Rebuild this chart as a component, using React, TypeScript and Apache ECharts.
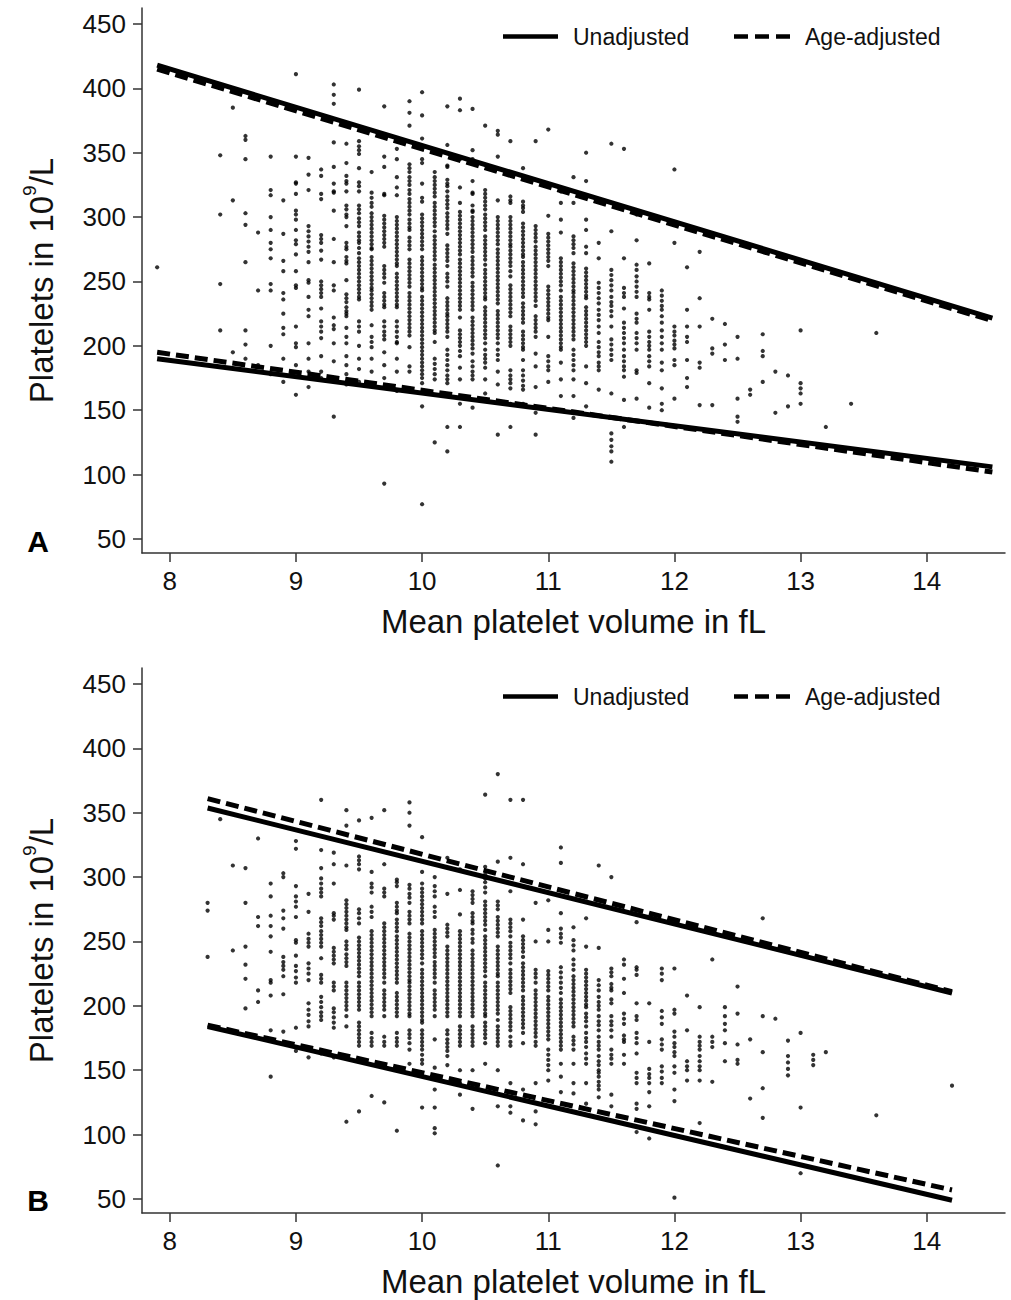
import React, { useEffect, useRef } from "react";
import * as echarts from "echarts";

const FONT = "'Liberation Sans', Arial, sans-serif";

const xTicks = [8, 9, 10, 11, 12, 13, 14];
const yTicks = [50, 100, 150, 200, 250, 300, 350, 400, 450];

// Panel A scatter: [MPV, list of platelet counts]
const panelAColumns: [number, number[]][] = [
  [7.9, [261]],
  [8.4, [348, 302, 248, 212]],
  [8.5, [385, 313, 195]],
  [8.6, [363, 360, 345, 303, 294, 265, 212, 201, 190]],
  [8.7, [288, 243, 185]],
  [8.8, [347, 321, 317, 300, 290, 280, 275, 268, 248, 243, 200, 178]],
  [8.9, [313, 287, 266, 258, 241, 236, 225, 214, 209, 190, 172]],
  [9.0, [411, 347, 327, 326, 318, 305, 302, 298, 290, 282, 279, 271, 258, 247, 245, 215, 202, 199, 185, 162]],
  [9.1, [346, 333, 321, 293, 289, 285, 281, 277, 273, 265, 251, 249, 238, 228, 223, 202, 190, 180, 168]],
  [9.2, [337, 332, 318, 314, 286, 283, 280, 274, 267, 250, 247, 244, 241, 238, 229, 219, 215, 211, 206, 192, 180, 175]],
  [9.3, [403, 395, 388, 358, 339, 326, 320, 319, 305, 283, 265, 247, 243, 222, 216, 213, 202, 188, 175, 145]],
  [9.4, [357, 342, 332, 328, 326, 320, 309, 306, 302, 300, 293, 280, 277, 275, 269, 266, 264, 251, 240, 237, 234, 230, 227, 225, 223, 214, 207, 202, 192, 185, 178, 170]],
  [9.5, [399, 359, 355, 352, 349, 338, 327, 324, 320, 309, 306, 303, 299, 296, 293, 288, 285, 282, 280, 276, 272, 268, 265, 262, 259, 256, 253, 250, 247, 244, 241, 238, 236, 219, 215, 211, 200, 190, 182, 172]],
  [9.6, [335, 319, 315, 311, 308, 303, 300, 297, 294, 291, 288, 285, 282, 279, 276, 275, 269, 266, 263, 260, 257, 254, 251, 248, 245, 243, 240, 237, 234, 231, 228, 216, 207, 203, 199, 190, 180, 170]],
  [9.7, [386, 347, 339, 318, 317, 301, 298, 295, 292, 289, 286, 283, 280, 277, 262, 259, 256, 253, 249, 241, 238, 235, 232, 230, 219, 215, 211, 208, 205, 195, 185, 175, 93]],
  [9.8, [353, 345, 331, 323, 317, 300, 297, 294, 291, 288, 285, 282, 279, 276, 273, 270, 267, 264, 262, 256, 253, 250, 247, 244, 241, 238, 235, 232, 230, 219, 215, 211, 207, 203, 202, 190, 180, 165]],
  [9.9, [390, 381, 371, 341, 338, 335, 331, 328, 325, 321, 318, 314, 311, 308, 305, 302, 298, 295, 292, 290, 284, 281, 278, 275, 267, 264, 261, 258, 255, 252, 249, 246, 241, 238, 235, 232, 229, 226, 223, 220, 217, 214, 211, 208, 199, 184, 180]],
  [10.0, [397, 379, 361, 345, 342, 326, 315, 312, 302, 299, 296, 293, 290, 287, 284, 281, 278, 275, 269, 266, 263, 260, 257, 254, 251, 248, 245, 243, 238, 235, 232, 229, 226, 223, 220, 217, 214, 211, 208, 205, 202, 199, 196, 193, 190, 187, 184, 181, 178, 175, 171, 153, 77]],
  [10.1, [335, 331, 328, 325, 322, 319, 316, 311, 308, 305, 302, 299, 296, 293, 289, 285, 282, 279, 276, 273, 270, 267, 263, 260, 257, 254, 251, 248, 245, 242, 239, 236, 233, 230, 227, 224, 221, 218, 215, 212, 210, 203, 190, 186, 182, 178, 174, 125]],
  [10.2, [386, 356, 340, 339, 329, 326, 324, 320, 316, 313, 310, 307, 303, 300, 297, 294, 291, 287, 278, 275, 272, 269, 266, 262, 256, 253, 250, 246, 237, 234, 231, 228, 225, 223, 220, 217, 214, 211, 207, 197, 193, 189, 185, 181, 177, 174, 171, 137, 118]],
  [10.3, [392, 383, 345, 323, 311, 304, 301, 298, 295, 292, 289, 286, 283, 280, 277, 274, 271, 267, 264, 261, 258, 255, 252, 249, 246, 243, 240, 237, 234, 231, 228, 222, 212, 209, 206, 203, 200, 196, 192, 183, 174, 155, 137]],
  [10.4, [384, 352, 345, 328, 319, 318, 309, 305, 304, 300, 297, 294, 291, 288, 285, 282, 279, 276, 273, 269, 266, 263, 260, 257, 254, 249, 246, 243, 240, 237, 234, 231, 228, 222, 219, 216, 213, 210, 207, 204, 201, 198, 194, 188, 184, 180, 177, 174, 152]],
  [10.5, [371, 321, 318, 315, 312, 309, 306, 302, 299, 296, 293, 290, 285, 282, 279, 276, 273, 270, 267, 263, 259, 256, 253, 250, 247, 244, 241, 238, 236, 230, 227, 224, 221, 218, 215, 212, 209, 206, 202, 197, 193, 190, 187, 183, 174, 163]],
  [10.6, [367, 364, 347, 313, 300, 297, 294, 291, 288, 285, 282, 279, 275, 272, 269, 266, 263, 260, 257, 254, 251, 248, 245, 242, 239, 236, 233, 227, 224, 221, 218, 215, 212, 209, 206, 202, 197, 193, 189, 180, 170, 131]],
  [10.7, [359, 316, 313, 311, 300, 297, 294, 291, 288, 285, 282, 279, 277, 274, 271, 268, 265, 262, 258, 254, 247, 244, 241, 238, 235, 232, 229, 226, 223, 215, 212, 209, 206, 203, 200, 181, 177, 174, 171, 167, 155, 137]],
  [10.8, [338, 312, 309, 307, 304, 295, 292, 289, 286, 283, 280, 277, 274, 271, 269, 265, 262, 259, 256, 253, 250, 247, 244, 241, 238, 233, 230, 227, 224, 221, 218, 211, 208, 205, 202, 199, 197, 189, 181, 177, 173, 169, 166, 155]],
  [10.9, [359, 293, 290, 287, 284, 281, 277, 274, 271, 268, 265, 262, 259, 256, 253, 250, 247, 244, 241, 238, 235, 231, 223, 220, 217, 214, 211, 207, 194, 184, 168, 148, 131]],
  [11.0, [368, 325, 301, 287, 284, 281, 278, 275, 272, 269, 266, 262, 246, 243, 240, 237, 234, 231, 228, 225, 222, 220, 207, 192, 188, 184, 181, 172]],
  [11.1, [320, 311, 298, 288, 268, 265, 262, 259, 256, 253, 250, 247, 243, 238, 235, 232, 229, 226, 223, 220, 217, 214, 211, 208, 205, 202, 199, 197, 187, 174, 161]],
  [11.2, [331, 311, 285, 282, 279, 276, 272, 264, 261, 258, 255, 252, 249, 246, 243, 241, 238, 235, 232, 229, 226, 223, 220, 217, 214, 211, 208, 205, 197, 193, 189, 185, 181, 174, 161, 144]],
  [11.3, [350, 328, 298, 290, 277, 272, 260, 257, 254, 251, 248, 245, 242, 239, 237, 230, 227, 224, 221, 218, 215, 212, 209, 206, 203, 200, 184, 171, 153]],
  [11.4, [280, 268, 249, 245, 241, 237, 233, 228, 224, 220, 215, 210, 203, 199, 195, 192, 187, 184, 181, 166]],
  [11.5, [357, 289, 259, 255, 251, 247, 243, 238, 234, 231, 227, 223, 215, 205, 201, 197, 193, 189, 163, 132, 127, 122, 118, 110]],
  [11.6, [353, 268, 245, 241, 238, 229, 218, 214, 210, 206, 202, 197, 192, 188, 184, 181, 176, 158, 137]],
  [11.7, [302, 282, 263, 259, 254, 250, 246, 242, 238, 225, 221, 218, 210, 206, 202, 197, 181, 179, 159]],
  [11.8, [264, 241, 238, 236, 228, 211, 207, 203, 200, 197, 192, 188, 184, 171, 152]],
  [11.9, [243, 239, 235, 231, 228, 223, 218, 212, 207, 202, 197, 187, 181, 167, 155, 150]],
  [12.0, [337, 280, 215, 211, 208, 204, 201, 198, 189, 185, 159]],
  [12.1, [261, 228, 215, 207, 203, 189, 175, 168]],
  [12.2, [273, 237, 215, 187, 183, 154]],
  [12.3, [221, 198, 194, 154]],
  [12.4, [217, 201, 189]],
  [12.5, [207, 190, 159, 145, 141]],
  [12.6, [166, 162]],
  [12.7, [209, 196, 192, 172]],
  [12.8, [180, 148]],
  [12.9, [177, 153]],
  [13.0, [212, 171, 167, 163, 155]],
  [13.2, [137]],
  [13.4, [155]],
  [13.6, [210]],
];

// Panel B scatter
const panelBColumns: [number, number[]][] = [
  [8.3, [280, 274, 238]],
  [8.4, [345]],
  [8.5, [309, 243]],
  [8.6, [307, 280, 246, 232, 221, 198]],
  [8.7, [330, 269, 262, 212, 203]],
  [8.8, [295, 285, 270, 262, 254, 242, 220, 218, 208, 181, 145]],
  [8.9, [303, 300, 274, 268, 260, 238, 234, 231, 228, 223, 209, 180]],
  [9.0, [328, 322, 293, 285, 281, 277, 269, 251, 249, 239, 231, 227, 222, 218, 183, 165]],
  [9.1, [287, 273, 256, 252, 249, 246, 233, 229, 225, 220, 202, 197, 193, 188, 184, 160]],
  [9.2, [360, 321, 307, 299, 295, 291, 288, 285, 268, 265, 262, 258, 255, 252, 249, 246, 237, 224, 221, 218, 207, 203, 199, 195, 192, 189, 163]],
  [9.3, [319, 310, 295, 272, 270, 267, 245, 242, 239, 236, 233, 218, 215, 212, 198, 195, 191, 187, 183, 160]],
  [9.4, [352, 340, 309, 282, 279, 276, 273, 270, 267, 264, 261, 259, 250, 247, 244, 240, 237, 234, 231, 218, 215, 212, 209, 206, 203, 200, 197, 192, 184, 110]],
  [9.5, [344, 316, 313, 310, 306, 275, 272, 268, 264, 253, 250, 247, 244, 241, 238, 235, 232, 229, 226, 223, 218, 215, 212, 209, 206, 203, 200, 197, 187, 184, 181, 178, 175, 172, 169, 118]],
  [9.6, [346, 304, 295, 292, 288, 277, 273, 269, 258, 255, 252, 249, 246, 243, 240, 237, 234, 231, 228, 225, 222, 219, 216, 213, 210, 207, 204, 201, 198, 195, 192, 179, 175, 172, 169, 130]],
  [9.7, [352, 310, 291, 288, 285, 264, 261, 258, 255, 252, 249, 246, 243, 240, 237, 234, 231, 228, 225, 222, 218, 212, 209, 206, 203, 200, 197, 192, 176, 172, 169, 125]],
  [9.8, [298, 296, 293, 280, 277, 274, 272, 267, 264, 261, 258, 254, 251, 248, 245, 242, 239, 236, 233, 230, 227, 224, 221, 218, 210, 207, 204, 201, 198, 195, 192, 179, 175, 172, 169, 103]],
  [9.9, [358, 350, 340, 294, 291, 287, 284, 280, 273, 270, 267, 264, 256, 253, 250, 247, 244, 241, 238, 235, 232, 229, 226, 223, 220, 218, 215, 212, 209, 206, 203, 200, 197, 194, 192, 181, 178, 175, 171, 166, 155]],
  [10.0, [331, 304, 295, 291, 288, 285, 282, 279, 276, 273, 270, 267, 264, 258, 255, 252, 249, 246, 243, 240, 237, 233, 228, 225, 222, 219, 216, 213, 210, 207, 204, 201, 198, 195, 192, 189, 187, 181, 178, 175, 172, 169, 166, 162, 158, 155, 121]],
  [10.1, [300, 293, 289, 285, 277, 273, 269, 259, 256, 253, 250, 247, 244, 241, 238, 234, 231, 228, 225, 222, 218, 212, 209, 206, 203, 200, 197, 192, 174, 152, 135, 121, 105, 101]],
  [10.2, [315, 287, 263, 260, 257, 254, 246, 243, 240, 237, 234, 231, 228, 225, 222, 219, 216, 213, 210, 207, 204, 201, 198, 195, 192, 181, 178, 174, 171, 168, 165, 161, 154]],
  [10.3, [306, 290, 271, 258, 255, 252, 249, 246, 243, 240, 237, 234, 231, 228, 225, 222, 219, 216, 213, 210, 207, 204, 201, 198, 195, 192, 184, 181, 178, 175, 172, 169, 150, 140, 131]],
  [10.4, [289, 286, 283, 280, 272, 269, 266, 264, 259, 256, 252, 249, 243, 240, 237, 234, 231, 228, 225, 222, 219, 216, 213, 210, 207, 204, 201, 198, 195, 192, 184, 181, 178, 175, 172, 169, 150, 120]],
  [10.5, [364, 308, 302, 299, 296, 292, 288, 281, 278, 275, 272, 269, 266, 263, 259, 254, 251, 248, 245, 242, 239, 236, 233, 230, 227, 223, 218, 215, 212, 209, 206, 203, 200, 197, 194, 192, 187, 184, 181, 178, 175, 171, 155]],
  [10.6, [380, 312, 281, 278, 275, 269, 266, 263, 260, 257, 254, 246, 243, 240, 237, 234, 231, 228, 225, 223, 218, 215, 212, 209, 206, 203, 200, 197, 194, 189, 184, 181, 178, 175, 172, 169, 150, 122, 76]],
  [10.7, [360, 315, 289, 267, 264, 261, 258, 254, 249, 246, 243, 240, 237, 233, 228, 225, 222, 219, 216, 213, 210, 199, 196, 193, 190, 187, 184, 181, 176, 172, 169, 140, 122, 117]],
  [10.8, [360, 310, 267, 254, 251, 248, 245, 242, 238, 233, 230, 227, 224, 221, 218, 215, 212, 207, 204, 201, 198, 195, 192, 189, 186, 183, 179, 171, 135, 111]],
  [10.9, [280, 250, 228, 225, 222, 218, 212, 209, 206, 203, 200, 197, 194, 191, 188, 185, 182, 179, 176, 172, 169, 140, 118, 108]],
  [11.0, [282, 259, 250, 227, 224, 221, 218, 215, 212, 207, 204, 201, 198, 195, 192, 189, 186, 183, 180, 177, 174, 166, 162, 158, 154, 150, 142]],
  [11.1, [323, 311, 272, 260, 256, 253, 249, 230, 226, 222, 218, 214, 210, 205, 202, 199, 196, 193, 190, 187, 184, 181, 178, 175, 172, 169, 166, 155, 145, 133]],
  [11.2, [261, 251, 247, 243, 236, 232, 228, 223, 220, 217, 214, 211, 208, 205, 202, 199, 196, 193, 190, 187, 184, 176, 173, 170, 166, 155, 140, 132]],
  [11.3, [268, 246, 228, 225, 222, 219, 216, 213, 210, 207, 204, 201, 199, 194, 191, 188, 184, 179, 175, 172, 168, 163, 159, 155, 140, 124]],
  [11.4, [309, 245, 220, 216, 212, 207, 203, 200, 197, 192, 188, 185, 181, 176, 172, 169, 166, 161, 157, 154, 150, 148, 145, 141, 138, 135, 129]],
  [11.5, [300, 229, 226, 223, 217, 214, 212, 205, 202, 192, 188, 185, 181, 176, 166, 162, 159, 155, 131, 122]],
  [11.6, [236, 232, 221, 210, 194, 190, 186, 177, 174, 172, 162, 155]],
  [11.7, [265, 230, 228, 224, 202, 192, 189, 179, 175, 171, 163, 148, 144, 140, 124, 120, 102]],
  [11.8, [202, 172, 151, 147, 144, 140, 133, 122, 97]],
  [11.9, [229, 225, 220, 196, 191, 186, 174, 170, 166, 153, 149, 144, 140]],
  [12.0, [229, 197, 194, 180, 176, 171, 168, 164, 161, 153, 148, 135, 126, 51]],
  [12.1, [208, 181, 157, 153, 150, 142]],
  [12.2, [199, 176, 172, 169, 166, 161, 157, 153, 150, 142, 109]],
  [12.3, [236, 176, 172, 168, 141]],
  [12.4, [199, 192, 186, 181, 171, 157]],
  [12.5, [215, 194, 170, 158, 155]],
  [12.6, [174, 128]],
  [12.7, [268, 192, 164, 136, 113]],
  [12.8, [190]],
  [12.9, [173, 161, 156, 151, 146]],
  [13.0, [179, 121, 70]],
  [13.1, [162, 158, 154]],
  [13.2, [164]],
  [13.6, [115]],
  [14.2, [138]],
];

// Reference limits (lower / upper), unadjusted and age-adjusted
const aUnadjUpper = [[7.9, 418], [14.52, 221.5]];
const aAgeUpper = [[7.9, 415], [14.52, 219.5]];
const aUnadjLower = [[7.9, 190], [14.52, 106]];
const aAgeLower = [[7.9, 195], [14.52, 102]];
const bUnadjUpper = [[8.3, 353.7], [14.2, 210]];
const bAgeUpper = [[8.3, 361], [14.2, 211]];
const bUnadjLower = [[8.3, 184], [14.2, 49]];
const bAgeLower = [[8.3, 185], [14.2, 57]];

const legendLabels = ["Unadjusted", "Age-adjusted"];
const panelLabels = ["A", "B"];

const X_MIN = 7.78;
const X_MAX = 14.62;
const Y_MIN = 39.1;
const Y_MAX = 462.4;

function toPoints(cols: [number, number[]][]) {
  const pts: number[][] = [];
  cols.forEach(([x, ys]) => ys.forEach((y) => pts.push([x, y])));
  return pts;
}

const AXIS_COLOR = "#333";
const TEXT_COLOR = "#111";

function xAxisFor(gridIndex: number) {
  return {
    gridIndex,
    type: "value",
    min: X_MIN,
    max: X_MAX,
    axisLine: { show: true, onZero: false, lineStyle: { color: AXIS_COLOR, width: 1.5 } },
    axisTick: { show: true, length: 9, customValues: xTicks, lineStyle: { color: AXIS_COLOR, width: 1.5 } },
    axisLabel: { customValues: xTicks, fontSize: 26, color: TEXT_COLOR, margin: 15, fontFamily: FONT },
    splitLine: { show: false },
    name: "Mean platelet volume in fL",
    nameLocation: "middle",
    nameGap: 52,
    nameTextStyle: { fontSize: 33, color: TEXT_COLOR, fontFamily: FONT },
  };
}

function yAxisFor(gridIndex: number) {
  return {
    gridIndex,
    type: "value",
    min: Y_MIN,
    max: Y_MAX,
    axisLine: { show: true, onZero: false, lineStyle: { color: AXIS_COLOR, width: 1.5 } },
    axisTick: { show: true, length: 9, customValues: yTicks, lineStyle: { color: AXIS_COLOR, width: 1.5 } },
    axisLabel: { customValues: yTicks, fontSize: 26, color: TEXT_COLOR, margin: 16, fontFamily: FONT },
    splitLine: { show: false },
    name: "Platelets in 10{sup|9}/L",
    nameLocation: "middle",
    nameRotate: 90,
    nameGap: 80,
    nameTextStyle: {
      fontSize: 33,
      color: TEXT_COLOR,
      fontFamily: FONT,
      lineHeight: 42,
      rich: { sup: { fontSize: 19, lineHeight: 19, verticalAlign: "top", color: TEXT_COLOR, fontFamily: FONT } },
    },
  };
}

function lineSeries(name: string, data: number[][], idx: number, dashed: boolean) {
  return {
    name,
    type: "line",
    xAxisIndex: idx,
    yAxisIndex: idx,
    data,
    symbol: "none",
    silent: true,
    z: dashed ? 4 : 3,
    lineStyle: { color: "#000", width: 5, type: dashed ? [13, 6] : "solid" },
  };
}

function scatterSeries(data: number[][], idx: number) {
  return {
    type: "scatter",
    xAxisIndex: idx,
    yAxisIndex: idx,
    data,
    symbol: "circle",
    symbolSize: 4.2,
    itemStyle: { color: "#000" },
    silent: true,
    z: 2,
  };
}

function legendGraphics(offsetY: number) {
  const y = 36.5 + offsetY;
  return [
    { type: "line", shape: { x1: 503, y1: y, x2: 558, y2: y }, style: { stroke: "#000", lineWidth: 4.5 } },
    {
      type: "text",
      x: 573,
      y,
      style: { text: legendLabels[0], fontSize: 23, fontFamily: FONT, fill: TEXT_COLOR, verticalAlign: "middle" },
    },
    {
      type: "line",
      shape: { x1: 734, y1: y, x2: 793, y2: y },
      style: { stroke: "#000", lineWidth: 4.5, lineDash: [14, 7] },
    },
    {
      type: "text",
      x: 805,
      y,
      style: { text: legendLabels[1], fontSize: 23, fontFamily: FONT, fill: TEXT_COLOR, verticalAlign: "middle" },
    },
  ];
}

export default function App() {
  const ref = useRef<HTMLDivElement>(null);
  useEffect(() => {
    if (!ref.current) return;
    const chart = echarts.init(ref.current, null, { renderer: "svg" });
    const option = {
      animation: false,
      backgroundColor: "#fff",
      grid: [
        { left: 142, top: 8, width: 863, height: 545 },
        { left: 142, top: 668, width: 863, height: 545 },
      ],
      xAxis: [xAxisFor(0), xAxisFor(1)],
      yAxis: [yAxisFor(0), yAxisFor(1)],
      series: [
        scatterSeries(toPoints(panelAColumns), 0),
        lineSeries("Unadjusted", aUnadjUpper, 0, false),
        lineSeries("Unadjusted", aUnadjLower, 0, false),
        lineSeries("Age-adjusted", aAgeUpper, 0, true),
        lineSeries("Age-adjusted", aAgeLower, 0, true),
        scatterSeries(toPoints(panelBColumns), 1),
        lineSeries("Unadjusted", bUnadjUpper, 1, false),
        lineSeries("Unadjusted", bUnadjLower, 1, false),
        lineSeries("Age-adjusted", bAgeUpper, 1, true),
        lineSeries("Age-adjusted", bAgeLower, 1, true),
      ],
      graphic: [
        ...legendGraphics(0),
        ...legendGraphics(660),
        {
          type: "text",
          x: 38,
          y: 541,
          style: { text: panelLabels[0], fontSize: 30, fontWeight: "bold", fontFamily: FONT, fill: "#000", align: "center", verticalAlign: "middle" },
        },
        {
          type: "text",
          x: 38,
          y: 1200,
          style: { text: panelLabels[1], fontSize: 30, fontWeight: "bold", fontFamily: FONT, fill: "#000", align: "center", verticalAlign: "middle" },
        },
      ],
    };
    chart.setOption(option as any);
    return () => chart.dispose();
  }, []);
  return (
    <div
      ref={ref}
      style={{ position: "absolute", left: 0, top: 0, width: 1011, height: 1300, background: "#fff" }}
    />
  );
}
